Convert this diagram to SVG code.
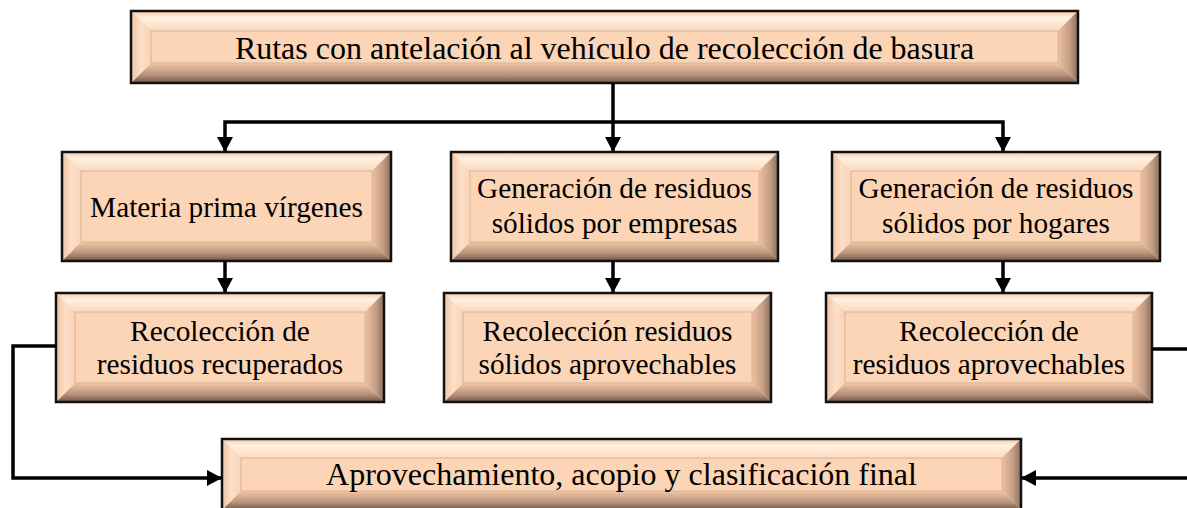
<svg xmlns="http://www.w3.org/2000/svg" width="1187" height="508" viewBox="0 0 1187 508">
<defs>
<linearGradient id="gT" x1="0" y1="0" x2="0" y2="1"><stop offset="0" stop-color="#F6CBA9"/><stop offset="0.35" stop-color="#FFF1E4"/><stop offset="1" stop-color="#FCD9BD"/></linearGradient>
<linearGradient id="gB" x1="0" y1="0" x2="0" y2="1"><stop offset="0" stop-color="#F2C6A5"/><stop offset="0.6" stop-color="#B8927A"/><stop offset="1" stop-color="#6F5648"/></linearGradient>
<linearGradient id="gL" x1="0" y1="0" x2="1" y2="0"><stop offset="0" stop-color="#EFC3A2"/><stop offset="0.5" stop-color="#FDDFC8"/><stop offset="1" stop-color="#FAD3B5"/></linearGradient>
<linearGradient id="gR" x1="0" y1="0" x2="1" y2="0"><stop offset="0" stop-color="#EDC1A1"/><stop offset="0.6" stop-color="#C29C84"/><stop offset="1" stop-color="#8A6C5B"/></linearGradient>
<marker id="ah" markerUnits="userSpaceOnUse" markerWidth="15" markerHeight="16" refX="14" refY="8" orient="auto"><path d="M0,0 L15,8 L0,16 Z" fill="#000"/></marker>
<style>
.base{fill:#FBD5B5}
.t{fill:url(#gT)}
.b{fill:url(#gB)}
.l{fill:url(#gL)}
.r{fill:url(#gR)}
.in{fill:#FCD5B6;stroke:#D9B397;stroke-width:1}
.out{fill:none;stroke:#111;stroke-width:2.5}
.txt{font-family:"Liberation Serif","Times New Roman",serif;fill:#000;text-anchor:middle}
.big{font-size:32px}
.mid{font-size:29.3px}
.conn{fill:none;stroke:#000;stroke-width:3.5}
</style>
</defs>

<g id="node-top">
<rect class="base" x="131" y="11" width="947" height="72"/>
<polygon class="t" points="131,11 1078,11 1058,31 151,31"/>
<polygon class="b" points="131,83 1078,83 1058,63 151,63"/>
<polygon class="l" points="131,11 151,31 151,63 131,83"/>
<polygon class="r" points="1078,11 1058,31 1058,63 1078,83"/>
<rect class="in" x="151" y="31" width="907" height="32"/>
<rect class="out" x="131" y="11" width="947" height="72"/>
<text class="txt big" x="604.5" y="59">Rutas con antelación al vehículo de recolección de basura</text>
</g>

<g id="node-materia">
<rect class="base" x="62" y="152" width="329" height="109"/>
<polygon class="t" points="62,152 391,152 372,171 81,171"/>
<polygon class="b" points="62,261 391,261 372,242 81,242"/>
<polygon class="l" points="62,152 81,171 81,242 62,261"/>
<polygon class="r" points="391,152 372,171 372,242 391,261"/>
<rect class="in" x="81" y="171" width="291" height="71"/>
<rect class="out" x="62" y="152" width="329" height="109"/>
<text class="txt mid" x="226.5" y="217">Materia prima vírgenes</text>
</g>

<g id="node-empresas">
<rect class="base" x="451" y="152" width="327" height="109"/>
<polygon class="t" points="451,152 778,152 759,171 470,171"/>
<polygon class="b" points="451,261 778,261 759,242 470,242"/>
<polygon class="l" points="451,152 470,171 470,242 451,261"/>
<polygon class="r" points="778,152 759,171 759,242 778,261"/>
<rect class="in" x="470" y="171" width="289" height="71"/>
<rect class="out" x="451" y="152" width="327" height="109"/>
<text class="txt mid" x="614.5" y="198">Generación de residuos</text>
<text class="txt mid" x="614.5" y="233">sólidos por empresas</text>
</g>

<g id="node-hogares">
<rect class="base" x="832" y="152" width="328" height="109"/>
<polygon class="t" points="832,152 1160,152 1141,171 851,171"/>
<polygon class="b" points="832,261 1160,261 1141,242 851,242"/>
<polygon class="l" points="832,152 851,171 851,242 832,261"/>
<polygon class="r" points="1160,152 1141,171 1141,242 1160,261"/>
<rect class="in" x="851" y="171" width="290" height="71"/>
<rect class="out" x="832" y="152" width="328" height="109"/>
<text class="txt mid" x="996" y="198">Generación de residuos</text>
<text class="txt mid" x="996" y="233">sólidos por hogares</text>
</g>

<g id="node-recuperados">
<rect class="base" x="56" y="293" width="328" height="109"/>
<polygon class="t" points="56,293 384,293 365,312 75,312"/>
<polygon class="b" points="56,402 384,402 365,383 75,383"/>
<polygon class="l" points="56,293 75,312 75,383 56,402"/>
<polygon class="r" points="384,293 365,312 365,383 384,402"/>
<rect class="in" x="75" y="312" width="290" height="71"/>
<rect class="out" x="56" y="293" width="328" height="109"/>
<text class="txt mid" x="220" y="341">Recolección de</text>
<text class="txt mid" x="220" y="374">residuos recuperados</text>
</g>

<g id="node-solidos-aprovechables">
<rect class="base" x="444" y="293" width="327" height="109"/>
<polygon class="t" points="444,293 771,293 752,312 463,312"/>
<polygon class="b" points="444,402 771,402 752,383 463,383"/>
<polygon class="l" points="444,293 463,312 463,383 444,402"/>
<polygon class="r" points="771,293 752,312 752,383 771,402"/>
<rect class="in" x="463" y="312" width="289" height="71"/>
<rect class="out" x="444" y="293" width="327" height="109"/>
<text class="txt mid" x="607.5" y="341">Recolección residuos</text>
<text class="txt mid" x="607.5" y="374">sólidos aprovechables</text>
</g>

<g id="node-residuos-aprovechables">
<rect class="base" x="826" y="293" width="326" height="109"/>
<polygon class="t" points="826,293 1152,293 1133,312 845,312"/>
<polygon class="b" points="826,402 1152,402 1133,383 845,383"/>
<polygon class="l" points="826,293 845,312 845,383 826,402"/>
<polygon class="r" points="1152,293 1133,312 1133,383 1152,402"/>
<rect class="in" x="845" y="312" width="288" height="71"/>
<rect class="out" x="826" y="293" width="326" height="109"/>
<text class="txt mid" x="989" y="341">Recolección de</text>
<text class="txt mid" x="989" y="374">residuos aprovechables</text>
</g>

<g id="node-final">
<rect class="base" x="222" y="439" width="799" height="71"/>
<polygon class="t" points="222,439 1021,439 1002,458 241,458"/>
<polygon class="b" points="222,510 1021,510 1002,491 241,491"/>
<polygon class="l" points="222,439 241,458 241,491 222,510"/>
<polygon class="r" points="1021,439 1002,458 1002,491 1021,510"/>
<rect class="in" x="241" y="458" width="761" height="33"/>
<rect class="out" x="222" y="439" width="799" height="71"/>
<text class="txt big" x="621.5" y="485">Aprovechamiento, acopio y clasificación final</text>
</g>

<g id="connectors">
<path class="conn" d="M613,83 V151" marker-end="url(#ah)"/>
<path class="conn" d="M613,122 H225 V151" marker-end="url(#ah)"/>
<path class="conn" d="M613,122 H1003 V151" marker-end="url(#ah)"/>
<path class="conn" d="M225,261 V292" marker-end="url(#ah)"/>
<path class="conn" d="M613,261 V292" marker-end="url(#ah)"/>
<path class="conn" d="M1003,261 V292" marker-end="url(#ah)"/>
<path class="conn" d="M56,346 H13 V478 H221" marker-end="url(#ah)"/>
<path class="conn" d="M1152,349 H1194 V478 H1022" marker-end="url(#ah)"/>
</g>
</svg>
